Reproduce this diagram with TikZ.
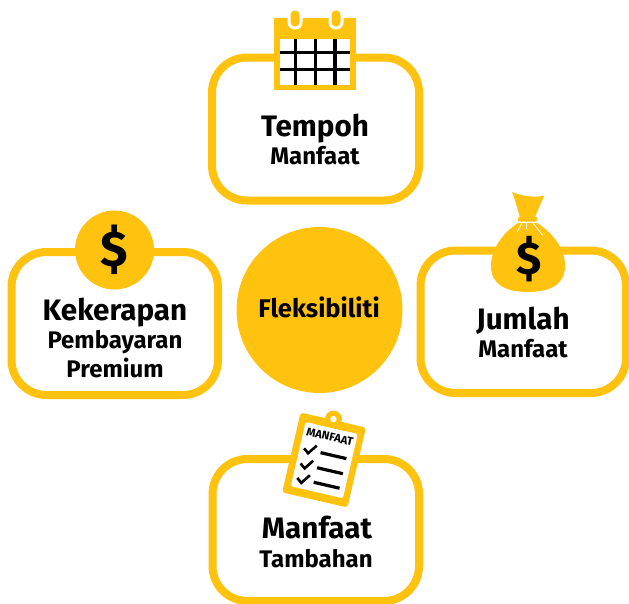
\documentclass[tikz,border=0pt]{standalone}
\usepackage{fontspec}
\setmainfont{Fira Sans}
\definecolor{gold}{HTML}{FFC20E}
\tikzset{
  panel/.style={draw=gold,line width=8pt,fill=white,rounded corners=35pt},
  bigtext/.style={anchor=base,inner sep=0pt,font=\fontsize{29.6}{30}\selectfont\bfseries},
  subtext/.style={anchor=base,inner sep=0pt,font=\fontsize{24}{24}\selectfont\bfseries},
  dollar/.style={anchor=center,inner sep=0pt,font=\fontsize{50}{50}\selectfont\bfseries},
  gridline/.style={draw=black,line width=3.2pt},
  listline/.style={draw=black,line width=3.2pt},
  tick/.style={draw=black,line width=2.6pt}
}
\begin{document}
\begin{tikzpicture}[x=1pt,y=-1pt]
\useasboundingbox (0,0) rectangle (629,603);
% panels
\draw[panel] (212,57.5) rectangle (419,200.5);
\draw[panel] (11.5,252) rectangle (218,395);
\draw[panel] (420.5,250.5) rectangle (626,393);
\draw[panel] (212.5,459) rectangle (419,601);
% centre
\node[circle,fill=gold,minimum size=166pt,inner sep=0pt] (centre) at (319.5,310) {};
\node[anchor=base,inner sep=0pt,font=\fontsize{25.5}{26}\selectfont\bfseries] (flex) at (319,317) {Fleksibiliti};
% calendar
\fill[gold] (274,18) rectangle (356,90);
\fill[white] (280,38.5) rectangle (350,85);
\draw[white,line width=3pt,fill=gold,rounded corners=5.7pt] (289,9) rectangle (301,28);
\draw[white,line width=3pt,fill=gold,rounded corners=5.7pt] (330,9) rectangle (342,28);
\foreach \x in {295.7,315.3,335}{\draw[gridline] (\x,38.5) -- (\x,85);}
\foreach \y in {52.7,69.3}{\draw[gridline] (280,\y) -- (350,\y);}
% coin
\node[circle,fill=gold,minimum size=79pt,inner sep=0pt] (coin) at (114.5,250) {};
\node[dollar] (coinsign) at (114.5,250) {\$};
% bag
\fill[gold] (520,217) .. controls (517,208) and (515,199) .. (512,192)
  .. controls (522,196) and (534,198) .. (544.5,195.5)
  .. controls (541,202) and (538,210) .. (535,217) -- cycle;
\fill[gold,rounded corners=1pt] (518,217) rectangle (537,221.5);
\fill[gold] (518,223) .. controls (504,232) and (491,248) .. (491,266)
  .. controls (491,284) and (505,292) .. (528,292)
  .. controls (551,292) and (565,284) .. (565,266)
  .. controls (565,248) and (552,232) .. (537,223) -- cycle;
\draw[white,line width=.8pt] (522,223) -- (517,232);
\draw[white,line width=.8pt] (533,223) -- (542.5,235);
\draw[white,line width=.8pt] (526,223) -- (526,229);
\node[dollar,font=\fontsize{46}{46}\selectfont\bfseries] (bagsign) at (529,259.5) {\$};
% clipboard
\begin{scope}[shift={(324,460)},rotate=-13]
  \fill[gold,rounded corners=3pt] (-33.5,-41) rectangle (33.5,41);
  \fill[white,rounded corners=2pt] (-26.5,-33) rectangle (27,33);
  \fill[gold,rounded corners=2pt] (-17,-41) rectangle (17,-33);
  \fill[gold] (0,-42) circle (8.5);
  \fill[white] (0,-42) circle (3.2);
  \node[anchor=center,inner sep=0pt,rotate=-13,font=\fontsize{11.5}{12}\selectfont\bfseries] (clip) at (0.5,-24) {MANFAAT};
  \foreach \y in {-6.4,9.1,24}{
    \draw[tick] (-22,\y-0.5) -- (-17,\y+3.4) -- (-10.3,\y-6);
    \draw[listline] (-5,\y) -- (21.5,\y);
  }
\end{scope}
% labels
\node[bigtext] (t1) at (315,136) {Tempoh};
\node[subtext] (t2) at (315,164) {Manfaat};
\node[bigtext] (k1) at (115,320) {Kekerapan};
\node[subtext] (k2) at (115,348) {Pembayaran};
\node[subtext] (k3) at (115,377) {Premium};
\node[bigtext] (j1) at (523,329) {Jumlah};
\node[subtext] (j2) at (523,357) {Manfaat};
\node[bigtext] (m1) at (317,538) {Manfaat};
\node[subtext] (m2) at (316,567) {Tambahan};
\end{tikzpicture}
\end{document}
